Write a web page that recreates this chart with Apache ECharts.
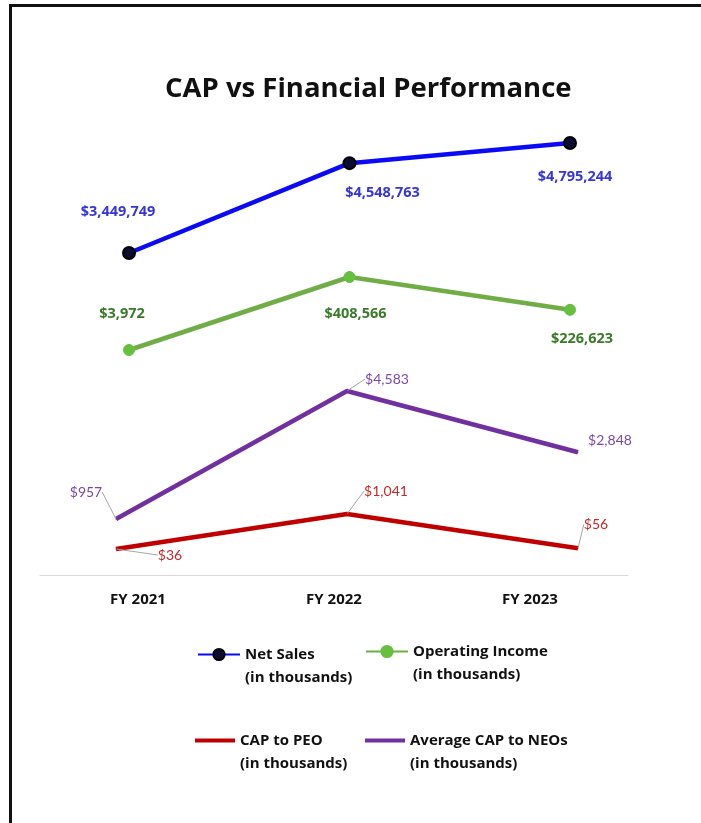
<!DOCTYPE html>
<html><head><meta charset="utf-8">
<script src="https://cdn.jsdelivr.net/npm/echarts@6/dist/echarts.min.js"></script>
<style>html,body{margin:0;padding:0;background:#fff}#c{width:701px;height:823px}</style>
</head><body><div id="c"></div>
<script>
// ---- data ----
const categories = ['FY 2021', 'FY 2022', 'FY 2023'];
const netSales = [3449749, 4548763, 4795244];
const operatingIncome = [3972, 408566, 226623];
const capToPEO = [36, 1041, 56];
const avgCapToNEOs = [957, 4583, 2848];
const seriesNames = ['Net Sales', 'Operating Income', 'CAP to PEO', 'Average CAP to NEOs'];
const legendSuffix = '(in thousands)';
const titleText = 'CAP vs Financial Performance';

// ---- styling (label offsets per point) ----
const offNet = [[-11, -41], [33, 30], [5, 34]];
const offOp = [[-7, -36], [6, 37], [12, 29]];
const offNeo = [[-30, -27], [40, -12], [32, -12]];
const offPeo = [[54, 6], [39, -23], [18, -24]];
const neoLeaderShown = [true, true, false];

const BOLD_FONT = '"Open Sans", Lato, sans-serif';
const REG_FONT = 'Lato, "Open Sans", sans-serif';
const money = v => '$' + v.toLocaleString('en-US');

function layoutFrom(arr) {
  return p => ({ dx: arr[p.dataIndex][0], dy: arr[p.dataIndex][1] });
}

const chart = echarts.init(document.getElementById('c'), null, { renderer: 'canvas' });

function legendCfg(name, left, top, extra) {
  return Object.assign({
    data: [name],
    left: left,
    top: top,
    padding: 0,
    orient: 'vertical',
    itemWidth: 42,
    itemHeight: 14,
    itemGap: 0,
    selectedMode: false,
    formatter: n => '{a|' + n + '}\n{a|' + legendSuffix + '}',
    textStyle: {
      padding: [23, 0, 0, 0],
      rich: { a: { fontFamily: BOLD_FONT, fontSize: 15, fontWeight: 'bold', color: '#111', lineHeight: 23 } }
    }
  }, extra || {});
}

chart.setOption({
  backgroundColor: '#ffffff',
  animation: false,
  title: {
    text: titleText,
    left: 165,
    top: 75,
    padding: 0,
    textStyle: { fontFamily: BOLD_FONT, fontSize: 27.5, fontWeight: 'bold', color: '#111' }
  },
  graphic: [
    { type: 'rect', shape: { x: 9, y: 4, width: 3, height: 830 }, style: { fill: '#111' } },
    { type: 'rect', shape: { x: 9, y: 4, width: 700, height: 3 }, style: { fill: '#111' } }
  ],
  legend: [
    legendCfg(seriesNames[0], 197, 647),
    legendCfg(seriesNames[1], 365, 644),
    legendCfg(seriesNames[2], 195, 733, { icon: 'rect', itemHeight: 4, itemWidth: 40 }),
    legendCfg(seriesNames[3], 365, 733, { icon: 'rect', itemHeight: 4, itemWidth: 40 })
  ],
  grid: [
    { left: 129, right: 131, top: 100, bottom: 248 },
    { left: 116, right: 123, top: 100, bottom: 248 },
    { left: 40, right: 73, top: 100, bottom: 248 }
  ],
  xAxis: [
    { type: 'category', gridIndex: 0, data: categories, boundaryGap: false, show: false },
    { type: 'category', gridIndex: 1, data: categories, boundaryGap: false, show: false },
    {
      type: 'category', gridIndex: 2, data: categories, boundaryGap: true,
      axisLine: { lineStyle: { color: '#d9d9d9', width: 1 } },
      axisTick: { show: false },
      axisLabel: { margin: 17, fontFamily: BOLD_FONT, fontSize: 15, fontWeight: 'bold', color: '#111' }
    }
  ],
  yAxis: [
    { type: 'value', gridIndex: 0, min: -489000, max: 5321000, show: false },
    { type: 'value', gridIndex: 0, min: -1243049, max: 1389551, show: false },
    { type: 'value', gridIndex: 1, min: -711, max: 12938, show: false },
    { type: 'value', gridIndex: 1, min: -629, max: 12827, show: false },
    { type: 'value', gridIndex: 2, min: 0, max: 1, show: false }
  ],
  series: [
    {
      name: seriesNames[0], type: 'line', xAxisIndex: 0, yAxisIndex: 0, data: netSales,
      lineStyle: { color: '#0a0af5', width: 4.5 },
      symbol: 'circle', symbolSize: 12,
      itemStyle: { color: '#0c0c30', borderColor: '#000', borderWidth: 2 },
      label: { show: true, position: 'inside', formatter: p => money(p.value), fontFamily: BOLD_FONT, fontSize: 14.5, fontWeight: 'bold', color: '#3535d8' },
      labelLayout: layoutFrom(offNet),
      z: 4
    },
    {
      name: seriesNames[1], type: 'line', xAxisIndex: 0, yAxisIndex: 1, data: operatingIncome,
      lineStyle: { color: '#70ad47', width: 4.5 },
      symbol: 'circle', symbolSize: 11,
      itemStyle: { color: '#66c040', borderColor: '#66c040', borderWidth: 1 },
      label: { show: true, position: 'inside', formatter: p => money(p.value), fontFamily: BOLD_FONT, fontSize: 14.5, fontWeight: 'bold', color: '#3a7a2a' },
      labelLayout: layoutFrom(offOp),
      z: 3
    },
    {
      name: seriesNames[2], type: 'line', xAxisIndex: 1, yAxisIndex: 2, data: capToPEO,
      lineStyle: { color: '#c00000', width: 4.5 },
      symbol: 'circle', symbolSize: 1,
      itemStyle: { color: '#c00000' },
      label: { show: true, position: 'inside', formatter: p => money(p.value), fontFamily: REG_FONT, fontSize: 14, color: '#c42a2a' },
      labelLine: { show: true, lineStyle: { color: '#a6a6a6', width: 1 } },
      labelLayout: layoutFrom(offPeo),
      z: 2
    },
    {
      name: seriesNames[3], type: 'line', xAxisIndex: 1, yAxisIndex: 3,
      data: avgCapToNEOs.map((v, i) => ({ value: v, labelLine: { show: neoLeaderShown[i] } })),
      lineStyle: { color: '#7030a0', width: 4.5 },
      symbol: 'circle', symbolSize: 1,
      itemStyle: { color: '#7030a0' },
      label: { show: true, position: 'inside', formatter: p => money(p.value), fontFamily: REG_FONT, fontSize: 14, color: '#7a48aa' },
      labelLine: { show: true, lineStyle: { color: '#a6a6a6', width: 1 } },
      labelLayout: layoutFrom(offNeo),
      z: 2
    }
  ]
});
</script>
</body></html>
